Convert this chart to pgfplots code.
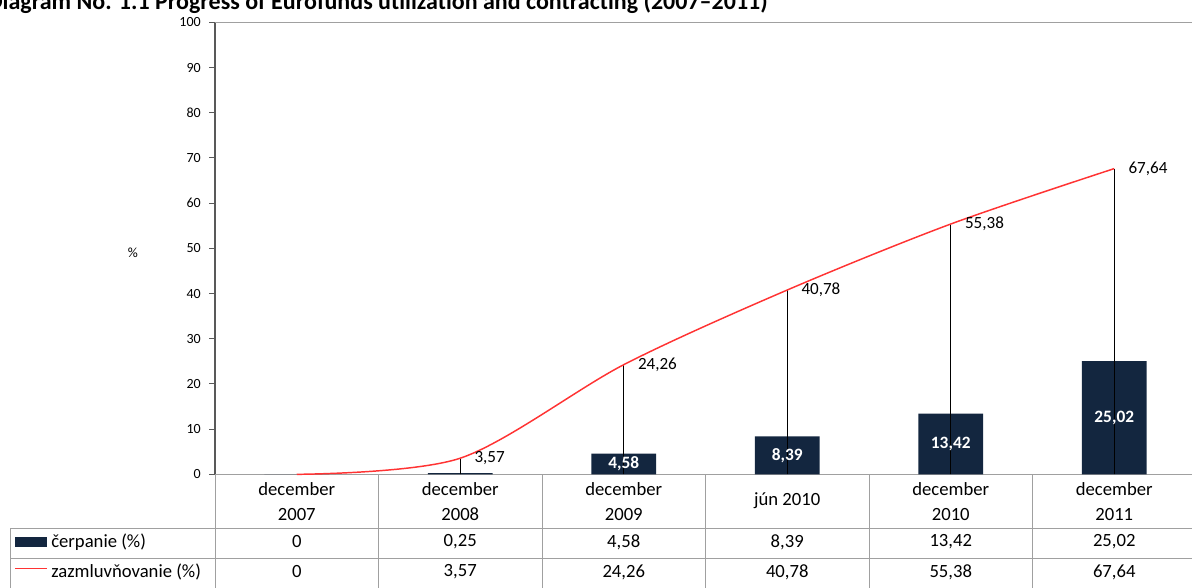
\documentclass[border=0pt]{standalone}
\usepackage{pgfplots}
\pgfplotsset{compat=1.18}
\usepackage{pgfplotstable}
\usepackage{fontspec}
\setmainfont{Carlito}
\definecolor{navy}{HTML}{13263F}
\definecolor{linered}{HTML}{FF3333}
\definecolor{gridgray}{HTML}{A0A0A0}
\definecolor{axisdark}{HTML}{595959}

\pgfplotstableread{
x c z
0 0 0
1 0.25 3.57
2 4.58 24.26
3 8.39 40.78
4 13.42 55.38
5 25.02 67.64
}\datatable

\begin{document}
\begin{tikzpicture}
\path[use as bounding box] (0,0) rectangle (894pt,440.25pt);
% title (cut at top like the reference)
\node[anchor=base east, font=\bfseries\fontsize{18}{20}\selectfont, inner sep=0pt] at (576pt,432.75pt) {Diagram No. 1.1 Progress of Eurofunds utilization and contracting (2007–2011)};
\begin{scope}[x=0.75pt,y=0.75pt]
  % table grid
  \draw[gridgray, line width=0.75pt] (215,112.7) -- (215,-2);
  \foreach \xx in {378.5,542,705.5,869,1032.5}{\draw[gridgray, line width=0.75pt] (\xx,112.7) -- (\xx,-2);}
  \draw[gridgray, line width=0.75pt] (10,59) -- (10,-2);
  \draw[gridgray, line width=0.75pt] (10,59) -- (1200,59);
  \draw[gridgray, line width=0.75pt] (10,29) -- (1200,29);
  \draw[gridgray, line width=0.75pt] (10,-1) -- (1200,-1);
  % header categories
  \begin{scope}[every node/.style={font=\fontsize{14}{18.75}\selectfont, align=center, inner sep=0pt}]
    \node at (296.75,85) {december\\2007};
    \node at (460.25,85) {december\\2008};
    \node at (623.75,85) {december\\2009};
    \node at (787.25,86.5) {jún 2010};
    \node at (950.75,85) {december\\2010};
    \node at (1114.25,85) {december\\2011};
  \end{scope}
  % legend column
  \fill[navy] (15,40) rectangle (47,50.5);
  \draw[linered, line width=0.9pt] (15,18.7) -- (47,18.7);
  \begin{scope}[every node/.style={font=\fontsize{14}{16}\selectfont, inner sep=0pt}]
    \node[anchor=west] at (51,45.3) {čerpanie (\%)};
    \node[anchor=west] at (51,15.3) {zazmluvňovanie (\%)};
    \node at (296.75,45) {0};
    \node at (460.25,45) {0,25};
    \node at (623.75,45) {4,58};
    \node at (787.25,45) {8,39};
    \node at (950.75,45) {13,42};
    \node at (1114.25,45) {25,02};
    \node at (296.75,15) {0};
    \node at (460.25,15) {3,57};
    \node at (623.75,15) {24,26};
    \node at (787.25,15) {40,78};
    \node at (950.75,15) {55,38};
    \node at (1114.25,15) {67,64};
  \end{scope}
  % y label
  \node[font=\fontsize{10.5}{12}\selectfont, inner sep=0pt] at (133,334) {\%};
\end{scope}
\begin{axis}[
  at={(161.25pt,84.5pt)}, anchor=south west,
  scale only axis, width=735.75pt, height=339pt,
  xmin=-0.5, xmax=5.5, ymin=0, ymax=100,
  axis x line=none, axis y line*=left,
  y axis line style={draw=axisdark, line width=1.6pt},
  ytick={0,10,...,100}, xtick=\empty,
  tick align=outside, major tick length=4.5pt,
  tick style={draw=axisdark, line width=0.75pt},
  yticklabel style={font=\fontsize{10.5}{12}\selectfont, inner sep=0pt, xshift=-6pt, /pgf/number format/assume math mode=true},
  yticklabel={\pgfmathprintnumber[int detect]{\tick}},
  clip=false,
]
\draw[gridgray, line width=0.75pt] (rel axis cs:0,1) -- (rel axis cs:1.01,1);
\draw[gridgray, line width=0.75pt] (rel axis cs:0,0) -- (rel axis cs:1.01,0);
\addplot[ybar, bar width=0.395, fill=navy, draw=none] table[x=x,y=c] {\datatable};
\addplot[ycomb, black, line width=0.6pt, mark=none] table[x=x,y=z] {\datatable};
\addplot[smooth, linered, line width=1.1pt, mark=none] table[x=x,y=z] {\datatable};
\addplot[draw=none, mark=none, restrict x to domain=1:5,
  nodes near coords={\pgfmathprintnumber[fixed, precision=2, fixed zerofill, use comma, assume math mode=true]{\pgfplotspointmeta}},
  point meta=y,
  every node near coord/.style={anchor=west, xshift=10.5pt, inner sep=0pt, font=\fontsize{12.8}{14}\selectfont, text=black}]
  table[x=x,y=z] {\datatable};
\addplot[draw=none, mark=none, restrict x to domain=2:5,
  nodes near coords={\pgfmathprintnumber[fixed, precision=2, fixed zerofill, use comma, assume math mode=true]{\pgfplotspointmeta}},
  point meta=\thisrow{c},
  every node near coord/.style={anchor=center, inner sep=0pt, font=\bfseries\fontsize{13}{14}\selectfont, text=white}]
  table[x=x,y expr=\thisrow{c}/2] {\datatable};
\end{axis}
\end{tikzpicture}
\end{document}
